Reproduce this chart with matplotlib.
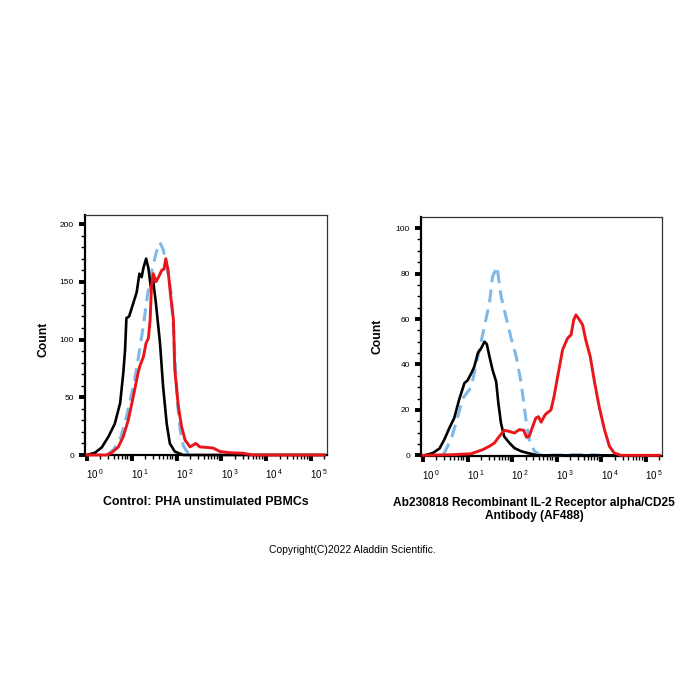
import numpy as np
import matplotlib
matplotlib.use("Agg")
import matplotlib.pyplot as plt
from matplotlib.ticker import FixedLocator, LogLocator, NullFormatter, MultipleLocator
from matplotlib.transforms import ScaledTranslation

plt.rcParams['font.family'] = ['Liberation Sans', 'DejaVu Sans']
plt.rcParams['mathtext.fontset'] = 'custom'
plt.rcParams['mathtext.rm'] = 'Liberation Sans'

# ---------------- data (log10 fluorescence, count) ----------------
# Left panel: Control (PHA unstimulated PBMCs)
L_black_x = [0.00, 0.18, 0.33, 0.48, 0.62, 0.74, 0.81, 0.85, 0.88, 0.94, 1.03, 1.11, 1.17, 1.22,
             1.26, 1.32, 1.37, 1.43, 1.48, 1.54, 1.63, 1.70, 1.78, 1.85, 1.96, 2.15, 5.30]
L_black_y = [0, 2, 6.6, 16, 27, 45, 71, 91, 118.5, 120, 131, 141, 157, 154,
             162, 170, 162, 144, 150, 131, 97, 59, 27, 10, 3, 0, 0]

L_red_x = [0.00, 0.44, 0.55, 0.70, 0.81, 0.92, 1.03, 1.14, 1.18, 1.26, 1.32, 1.37, 1.41, 1.44,
           1.48, 1.54, 1.61, 1.67, 1.72, 1.76, 1.81, 1.87, 1.93, 1.96, 2.04, 2.11, 2.19, 2.30,
           2.43, 2.52, 2.67, 2.82, 2.97, 3.19, 3.49, 3.71, 5.30]
L_red_y = [0, 0, 2, 7, 16, 30, 50, 71, 77, 85, 97, 101, 117, 146,
           157, 150, 155, 160, 161, 170, 160, 137, 117, 74, 42, 25, 13, 7,
           10, 7, 6.6, 6, 3, 2, 1.5, 0, 0]

L_blue_x = [0.45, 0.60, 0.75, 0.85, 0.95, 1.05, 1.15, 1.25, 1.35, 1.45, 1.55, 1.63, 1.70, 1.80,
            1.88, 1.93, 1.97, 2.02, 2.08, 2.15, 2.25, 2.40]
L_blue_y = [0, 5, 15, 28, 45, 62, 85, 110, 138, 160, 176, 184, 178, 160,
            140, 110, 80, 45, 22, 8, 2, 0]

# Right panel: Ab230818 anti-CD25 (AF488)
R_black_x = [0.03, 0.22, 0.37, 0.48, 0.59, 0.70, 0.81, 0.93, 1.00, 1.08, 1.15, 1.23, 1.30, 1.38,
             1.43, 1.49, 1.56, 1.64, 1.69, 1.75, 1.82, 1.94, 2.05, 2.20, 2.35, 2.57, 5.30]
R_black_y = [0, 1, 3, 7, 12, 16.4, 24.5, 31.8, 33, 36, 39, 45, 47, 50,
             49, 43.5, 37.6, 32.5, 23, 14, 8.3, 5.4, 3.2, 1.8, 1, 0, 0]

R_blue_x = [0.45, 0.63, 0.78, 0.89, 1.08, 1.23, 1.38, 1.49, 1.56, 1.66, 1.75, 1.86, 1.97, 2.09,
            2.20, 2.27, 2.32, 2.38, 2.50, 2.65, 3.40, 3.80, 4.00]
R_blue_y = [0, 7, 17, 25, 30, 43.5, 57, 67, 78.6, 83, 70, 61, 52, 43.5,
            32, 21.5, 14, 7, 1.8, 0, 0.3, 0.3, 0]

R_red_x = [0.00, 0.70, 1.08, 1.34, 1.49, 1.60, 1.71, 1.82, 1.94, 2.05, 2.16, 2.26, 2.32, 2.38,
           2.46, 2.53, 2.59, 2.65, 2.74, 2.87, 2.94, 3.02, 3.13, 3.24, 3.32, 3.38, 3.43, 3.51,
           3.58, 3.65, 3.75, 3.84, 3.95, 4.07, 4.18, 4.29, 4.44, 5.30]
R_red_y = [0, 0.3, 0.7, 2.5, 4, 5.4, 8.3, 11, 10.5, 9.8, 11.3, 11, 8, 8.3,
           12.7, 16.4, 17, 14.6, 17.9, 20, 26, 34.7, 46.4, 51.5, 53, 59.6, 61.8, 59.6,
           57.4, 50.8, 43.5, 33, 21.5, 11.3, 4, 1, 0, 0]

decades = [0, 1, 2, 3, 4, 5]
L_ylim = (0, 207.8)
R_ylim = (-0.3, 104.9)
L_yticks = [0, 50, 100, 150, 200]
R_yticks = [0, 20, 40, 60, 80, 100]
L_xlabel = "Control: PHA unstimulated PBMCs"
R_xlabel = "Ab230818 Recombinant IL-2 Receptor alpha/CD25\nAntibody (AF488)"
copyright_text = "Copyright(C)2022 Aladdin Scientific."

RED = "#e8161b"
BLUE = "#80b9e8"
BLACK = "#000000"

fig = plt.figure(figsize=(7, 7), dpi=100)
fig.patch.set_facecolor("white")

def style_axes(ax, ylim, yticks, yminor, xlabel, xl_size, xl_coords, yl_coords):
    ax.set_xscale("log")
    ax.set_xlim(10 ** -0.045, 10 ** 5.36)
    ax.set_ylim(*ylim)
    ax.xaxis.set_major_locator(FixedLocator([10.0 ** d for d in decades]))
    ax.xaxis.set_minor_locator(LogLocator(base=10, subs=np.arange(2, 10)))
    ax.xaxis.set_minor_formatter(NullFormatter())
    ax.set_xticklabels([r"$\mathregular{10^{\,%d}}$" % d for d in decades])
    ax.set_yticks(yticks)
    ax.yaxis.set_minor_locator(MultipleLocator(yminor))
    ax.tick_params(axis="both", which="major", length=4.5, width=2.8,
                   color="black", direction="out")
    ax.tick_params(axis="x", which="major", pad=4.5, labelsize=7.0)
    ax.tick_params(axis="y", which="major", pad=3.5, labelsize=6.0)
    ax.tick_params(axis="both", which="minor", length=3, width=1.0, color="black", direction="out")
    for s in ("left", "bottom"):
        ax.spines[s].set_linewidth(1.6)
        ax.spines[s].set_color("black")
    for s in ("top", "right"):
        ax.spines[s].set_linewidth(0.9)
        ax.spines[s].set_color("#333333")
    offset = ScaledTranslation(8 / 100, 0, fig.dpi_scale_trans)
    for lab in ax.get_xticklabels():
        lab.set_transform(lab.get_transform() + offset)
    ax.set_ylabel("Count", fontsize=8.7, fontweight="bold")
    ax.yaxis.set_label_coords(*yl_coords)
    ax.set_xlabel(xlabel, fontsize=xl_size, fontweight="bold", linespacing=1.15)
    ax.xaxis.set_label_coords(*xl_coords)

def draw(ax, bx, by, kx, ky, rx, ry):
    lb, = ax.plot(10.0 ** np.array(bx), by, color=BLUE, lw=2.2, zorder=3, clip_on=False,
                  solid_capstyle="butt")
    lb.set_dashes((4.2, 2.4))
    ax.plot(10.0 ** np.array(kx), ky, color=BLACK, lw=1.9, zorder=4, clip_on=False)
    ax.plot(10.0 ** np.array(rx), ry, color=RED, lw=2.1, zorder=5, clip_on=False)

axL = fig.add_axes([85 / 700, 1 - 455 / 700, 242 / 700, 240 / 700])
draw(axL, L_blue_x, L_blue_y, L_black_x, L_black_y, L_red_x, L_red_y)
style_axes(axL, L_ylim, L_yticks, 10, L_xlabel, 8.9, (0.5, -0.17), (-0.145, 0.48))

axR = fig.add_axes([421 / 700, 1 - 456 / 700, 241 / 700, 239 / 700])
draw(axR, R_blue_x, R_blue_y, R_black_x, R_black_y, R_red_x, R_red_y)
style_axes(axR, R_ylim, R_yticks, 5, R_xlabel, 8.6, (0.47, -0.172), (-0.155, 0.5))

fig.text(352 / 700, 1 - 550 / 700, copyright_text, fontsize=7.5, ha="center", va="center")

fig.savefig("out.png", dpi=100, facecolor="white")
